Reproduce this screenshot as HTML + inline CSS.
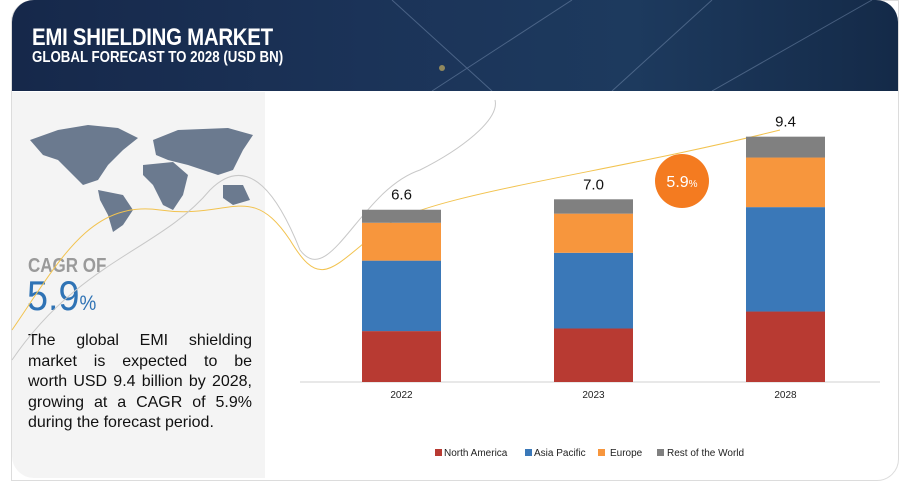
<!DOCTYPE html>
<html><head><meta charset="utf-8"><style>
body{margin:0;width:900px;height:481px;background:#fff;position:relative;overflow:hidden;font-family:"Liberation Sans",sans-serif}
.abs{position:absolute}
.ln{text-align:justify;text-align-last:justify;white-space:nowrap;height:20.5px}
.ln.last{text-align-last:left}
</style></head><body>
<div class="abs" style="left:11px;top:0;width:886px;height:479px;border:1px solid #dcdcdc;border-radius:22px 0 22px 0;"></div>
<div class="abs" style="left:12px;top:0;width:886px;height:91px;border-radius:22px 22px 0 0;background:linear-gradient(90deg,#16284a 0%,#1b3358 40%,#1d3a5e 70%,#142a48 100%);overflow:hidden">
<svg width="886" height="91" style="position:absolute;left:0;top:0"><path d="M380 0 L480 91 M600 91 L700 0 M420 91 L560 0 M700 91 L860 0" stroke="#8fa6c7" stroke-width="1" opacity=".4"/><circle cx="430" cy="68" r="3" fill="#e0c060" opacity=".6"/></svg>
</div>
<div class="abs" style="left:32px;top:24px;color:#fff;font-weight:bold;font-size:24px;transform:scaleX(.85);transform-origin:left;letter-spacing:-.3px">EMI SHIELDING MARKET</div>
<div class="abs" style="left:32px;top:49px;color:#fff;font-weight:bold;font-size:16px;transform:scaleX(.83);transform-origin:left">GLOBAL FORECAST TO 2028 (USD BN)</div>
<div class="abs" style="left:12px;top:92px;width:253px;height:386px;background:#f4f4f4;border-radius:0 0 0 22px"></div>
<svg class="abs" style="left:28px;top:120px" width="225" height="115"><g fill="#6b7a8f">
<path d="M2 20 L30 10 L60 5 L90 8 L110 18 L95 30 L80 45 L70 60 L55 65 L45 55 L30 40 L15 35 Z"/>
<path d="M70 70 L95 75 L105 90 L95 105 L85 112 L80 95 L72 80 Z"/>
<path d="M125 20 L150 10 L200 8 L225 15 L215 30 L205 50 L190 55 L175 50 L160 45 L140 40 L128 35 Z"/>
<path d="M115 45 L145 42 L160 55 L155 75 L145 90 L135 85 L125 65 L115 55 Z"/>
<path d="M195 65 L215 65 L222 80 L205 85 L195 78 Z"/></g></svg>
<div class="abs" style="left:28px;top:255px;color:#9a9a9a;font-size:20px;font-weight:bold;transform:scaleX(.85);transform-origin:left">CAGR OF</div>
<div class="abs" style="left:27px;top:272px;color:#2f73b5;font-size:42px;transform:scaleX(.9);transform-origin:left">5.9<span style="font-size:21px">%</span></div>
<div class="abs" style="left:28px;top:331px;width:224px;font-size:16px;line-height:20.5px;color:#111">
<div class="ln">The global EMI shielding</div>
<div class="ln">market is expected to be</div>
<div class="ln">worth USD 9.4 billion by 2028,</div>
<div class="ln">growing at a CAGR of 5.9%</div>
<div class="ln last">during the forecast period.</div>
</div>
<svg class="abs" style="left:0;top:0" width="900" height="481"><path d="M12 330 C60 260 90 200 160 210 C230 220 250 180 290 240 C320 290 330 270 380 230 C420 195 600 175 780 130" stroke="#f2c350" fill="none" stroke-width="1"/><path d="M12 360 C80 260 160 250 210 190 C250 150 280 200 300 250 C330 290 360 190 420 170 C460 150 500 120 495 100" stroke="#c8c8c8" fill="none" stroke-width="1"/></svg>
<svg class="abs" id="chart" style="left:0;top:0" width="900" height="481"></svg>
<script>
const years=["2022","2023","2028"];
const northAmerica=[1.95,2.05,2.7];
const asiaPacific=[2.7,2.9,4.0];
const europe=[1.45,1.5,1.9];
const restOfWorld=[0.5,0.55,0.8];
const totals=["6.6","7.0","9.4"];
const seriesNames=["North America","Asia Pacific","Europe","Rest of the World"];
const colors=["#b83a32","#3a78b8","#f7963d","#808080"];
const NS="http://www.w3.org/2000/svg";
const svg=document.getElementById('chart');
const base=382, pxPer=26.1;
const y=v=>base-v*pxPer;
const xs=i=>362+i*192;
const bw=79;
function mk(t,a){const e=document.createElementNS(NS,t);for(const k in a)e.setAttribute(k,a[k]);svg.appendChild(e);return e;}
const series=[northAmerica,asiaPacific,europe,restOfWorld];
const axis=mk('line',{x1:300,x2:880,y1:base,y2:base,stroke:'#d0d0d0'});


years.forEach((yr,i)=>{
 let acc=0;
 series.forEach((s,j)=>{
  const r=mk('rect',{x:xs(i),y:y(acc+s[i]),width:bw,height:s[i]*pxPer,fill:colors[j]});
  
  
  acc+=s[i];
 });
 const t=mk('text',{x:xs(i)+bw/2,y:y(acc)-10,'text-anchor':'middle','font-size':15,fill:'#111','font-family':'Liberation Sans'});
 t.textContent=totals[i];
 
 
 const l=mk('text',{x:xs(i)+bw/2,y:398,'text-anchor':'middle','font-size':10,fill:'#222','font-family':'Liberation Sans'});
 l.textContent=yr;
 
 
});
const c=mk('circle',{cx:682,cy:181,r:27,fill:'#f47b20'});


const ct=mk('text',{x:682,y:187,'text-anchor':'middle','font-size':16,fill:'#fff','font-family':'Liberation Sans'});
ct.innerHTML='5.9<tspan font-size="10">%</tspan>';


const lx=[435,525,598,657];
const tx=[444,534,610,667];
seriesNames.forEach((n,j)=>{
 const g=mk('rect',{x:lx[j],y:449,width:7,height:7,fill:colors[j]});
 
 
 const t=mk('text',{x:tx[j],y:456,'font-size':10,fill:'#222','font-family':'Liberation Sans'});
 t.textContent=n;
 
 
});
</script>
</body></html>
